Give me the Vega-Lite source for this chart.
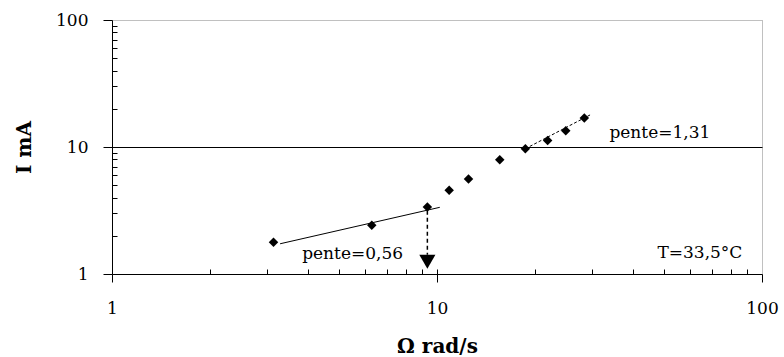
{
  "$schema": "https://vega.github.io/schema/vega-lite/v6.json",
  "width": 650,
  "height": 254,
  "autosize": "none",
  "padding": {"left": 112, "top": 20, "right": 22, "bottom": 83},
  "background": "white",
  "config": {
    "view": {"stroke": "#808080", "strokeDash": [1, 1], "strokeWidth": 1},
    "font": "DejaVu Serif"
  },
  "datasets": {
    "pts": [
      {"x": 3.14, "y": 1.78},
      {"x": 6.3, "y": 2.42},
      {"x": 9.34, "y": 3.37},
      {"x": 10.9, "y": 4.56},
      {"x": 12.5, "y": 5.6},
      {"x": 15.6, "y": 7.94},
      {"x": 18.7, "y": 9.69},
      {"x": 21.9, "y": 11.26},
      {"x": 24.9, "y": 13.4},
      {"x": 28.4, "y": 16.9}
    ],
    "fit1": [{"x": 3.29, "y": 1.73}, {"x": 10.2, "y": 3.35}],
    "fit2": [{"x": 18.7, "y": 9.69}, {"x": 29.6, "y": 17.9}],
    "arrow": [{"x": 9.34, "y1": 3.15, "y2": 1.42}],
    "head": [{"x": 9.34, "y": 1.25}],
    "notes": [
      {"x": 5.5, "y": 1.45, "t": "pente=0,56"},
      {"x": 48.5, "y": 12.8, "t": "pente=1,31"},
      {"x": 64.4, "y": 1.46, "t": "T=33,5°C"}
    ]
  },
  "resolve": {"axis": {"x": "independent", "y": "independent"}},
  "layer": [
    {
      "data": {"name": "pts"},
      "mark": {"type": "point", "shape": "diamond", "filled": true, "color": "black", "size": 90, "opacity": 1},
      "encoding": {
        "x": {"field": "x", "type": "quantitative", "scale": {"type": "log", "domain": [1, 100], "nice": false},
          "axis": {"orient": "bottom", "values": [1, 10, 100], "format": "d", "tickSize": 8, "tickColor": "black", "domainColor": "black", "labelFontSize": 17, "labelColor": "black", "labelFont": "DejaVu Serif", "labelPadding": 18, "labelFlush": false, "grid": false, "title": "Ω rad/s", "titleFont": "DejaVu Serif", "titleFontSize": 20, "titleFontWeight": "bold", "titleColor": "black", "titlePadding": 20}},
        "y": {"field": "y", "type": "quantitative", "scale": {"type": "log", "domain": [1, 100], "nice": false},
          "axis": {"orient": "left", "values": [1, 10, 100], "format": "d", "tickSize": 9, "tickColor": "black", "domainColor": "black", "labelFontSize": 17, "labelColor": "black", "labelFont": "DejaVu Serif", "labelPadding": 15, "labelFlush": false, "grid": true, "gridColor": "black", "gridOpacity": {"condition": {"test": "datum.value == 10", "value": 1}, "value": 0}, "title": "I mA", "titleFont": "DejaVu Serif", "titleFontSize": 20, "titleFontWeight": "bold", "titleColor": "black", "titlePadding": 21}}
      }
    },
    {
      "data": {"name": "fit1"},
      "mark": {"type": "line", "color": "black", "strokeWidth": 1},
      "encoding": {
        "x": {"field": "x", "type": "quantitative", "scale": {"type": "log", "domain": [1, 100], "nice": false},
          "axis": {"orient": "bottom", "zindex": 1, "values": [2, 3, 4, 5, 6, 7, 8, 9, 10, 20, 30, 40, 50, 60, 70, 80, 90], "tickSize": -5, "tickColor": "black", "tickWidth": 1, "labels": false, "domain": false, "grid": false, "title": null}},
        "y": {"field": "y", "type": "quantitative", "scale": {"type": "log", "domain": [1, 100], "nice": false},
          "axis": {"orient": "left", "zindex": 1, "values": [2, 3, 4, 5, 6, 7, 8, 9, 10, 20, 30, 40, 50, 60, 70, 80, 90], "tickSize": -5, "tickColor": "black", "labels": false, "domain": false, "grid": false, "title": null}}
      }
    },
    {
      "data": {"name": "fit2"},
      "mark": {"type": "line", "color": "black", "strokeWidth": 1, "strokeDash": [3, 2]},
      "encoding": {
        "x": {"field": "x", "type": "quantitative", "axis": null},
        "y": {"field": "y", "type": "quantitative", "axis": null}
      }
    },
    {
      "data": {"name": "arrow"},
      "mark": {"type": "rule", "color": "black", "strokeWidth": 1.5, "strokeDash": [4, 3]},
      "encoding": {
        "x": {"field": "x", "type": "quantitative", "axis": null},
        "y": {"field": "y1", "type": "quantitative", "axis": null},
        "y2": {"field": "y2"}
      }
    },
    {
      "data": {"name": "head"},
      "mark": {"type": "point", "shape": "triangle-down", "filled": true, "color": "black", "size": 260, "opacity": 1},
      "encoding": {
        "x": {"field": "x", "type": "quantitative", "axis": null},
        "y": {"field": "y", "type": "quantitative", "axis": null}
      }
    },
    {
      "data": {"name": "notes"},
      "mark": {"type": "text", "font": "DejaVu Serif", "fontSize": 17, "color": "black", "align": "center", "baseline": "middle"},
      "encoding": {
        "x": {"field": "x", "type": "quantitative", "axis": null},
        "y": {"field": "y", "type": "quantitative", "axis": null},
        "text": {"field": "t"}
      }
    }
  ]
}
